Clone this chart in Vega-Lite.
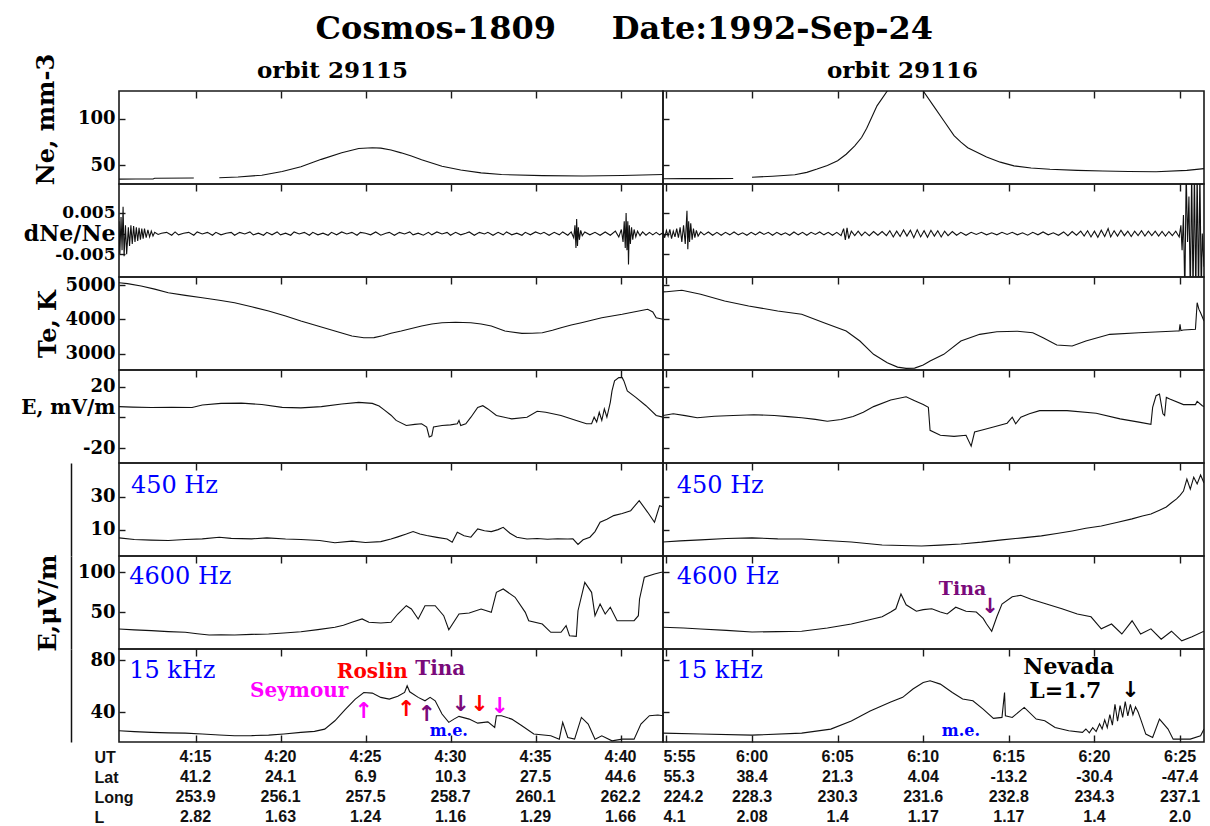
{
"$schema":"https://vega.github.io/schema/vega-lite/v6.json",
"background":"white",
"padding":{"left":19,"top":12,"right":5,"bottom":0},
"title":{"text":"Cosmos-1809\u00a0\u00a0\u00a0\u00a0\u00a0Date:1992-Sep-24","font":"DejaVu Serif","fontSize":32,"fontWeight":"bold","color":"#000","anchor":"middle","dx":12,"offset":7},
"config":{
 "view":{"stroke":"#1a1a1a","strokeWidth":1.6},
 "font":"DejaVu Serif",
 "axis":{"grid":false,"domain":false,"tickColor":"#1a1a1a","tickWidth":1.4,"labelFont":"DejaVu Serif","labelFontWeight":"bold","labelFontSize":18,"labelColor":"#000","titleFont":"DejaVu Serif","titleFontWeight":"bold","titleFontSize":24,"titleColor":"#000","labelOverlap":false,"labelFlush":false},
 "line":{"color":"#111","strokeWidth":1.1},
 "text":{"color":"#000"}
},
"datasets":{
 "ne_L":[{"t":250.5,"v":35.2,"seg":1},{"t":251.5,"v":35.3,"seg":1},{"t":252.5,"v":35.4,"seg":1},{"t":252.6,"v":36.2,"seg":1},{"t":254.9,"v":36.5,"seg":1},{"t":256.4,"v":36.8,"seg":2},{"t":257.5,"v":37.6,"seg":2},{"t":258.9,"v":39.4,"seg":2},{"t":260.1,"v":43.5,"seg":2},{"t":261.2,"v":48.6,"seg":2},{"t":262.4,"v":56.5,"seg":2},{"t":263.6,"v":63.7,"seg":2},{"t":264.6,"v":68.2,"seg":2},{"t":265.4,"v":69,"seg":2},{"t":265.9,"v":68.6,"seg":2},{"t":266.5,"v":66.5,"seg":2},{"t":267.1,"v":63.5,"seg":2},{"t":267.7,"v":60,"seg":2},{"t":268.3,"v":56,"seg":2},{"t":268.9,"v":52.5,"seg":2},{"t":269.5,"v":49,"seg":2},{"t":270.6,"v":45,"seg":2},{"t":271.8,"v":42,"seg":2},{"t":273,"v":40.2,"seg":2},{"t":275.4,"v":39,"seg":2},{"t":277.8,"v":38.6,"seg":2},{"t":280.1,"v":39.2,"seg":2},{"t":282.5,"v":40.2,"seg":2}],
 "ne_R":[{"t":354.8,"v":35.6,"seg":1},{"t":356,"v":35.8,"seg":1},{"t":357.5,"v":35.8,"seg":1},{"t":358.9,"v":35.9,"seg":1},{"t":360,"v":37.3,"seg":2},{"t":361.2,"v":38.4,"seg":2},{"t":362.5,"v":40,"seg":2},{"t":363.2,"v":42.5,"seg":2},{"t":363.8,"v":46.1,"seg":2},{"t":364.4,"v":50,"seg":2},{"t":365,"v":55,"seg":2},{"t":365.5,"v":62,"seg":2},{"t":366,"v":71,"seg":2},{"t":366.4,"v":80,"seg":2},{"t":366.7,"v":90,"seg":2},{"t":367,"v":102,"seg":2},{"t":367.3,"v":114,"seg":2},{"t":367.9,"v":130,"seg":2},{"t":368.4,"v":140,"seg":2},{"t":369,"v":146,"seg":2},{"t":369.6,"v":140,"seg":2},{"t":370,"v":130,"seg":2},{"t":370.6,"v":114,"seg":2},{"t":371.2,"v":98,"seg":2},{"t":371.8,"v":82,"seg":2},{"t":372.2,"v":75,"seg":2},{"t":372.6,"v":69,"seg":2},{"t":373.7,"v":59,"seg":2},{"t":374.5,"v":53.5,"seg":2},{"t":375.3,"v":49.5,"seg":2},{"t":376.3,"v":47.2,"seg":2},{"t":377.4,"v":45.8,"seg":2},{"t":379,"v":44.6,"seg":2},{"t":380.5,"v":44,"seg":2},{"t":382,"v":43.4,"seg":2},{"t":383.6,"v":43.2,"seg":2},{"t":385.4,"v":44.7,"seg":2},{"t":386.4,"v":46.5,"seg":2}],
 "dne_L":[{"t":250.5,"v":0.003},{"t":250.55,"v":-0.005},{"t":250.62,"v":0.004},{"t":250.68,"v":-0.004},{"t":250.74,"v":0.0065},{"t":250.8,"v":-0.0055},{"t":250.88,"v":0.002},{"t":250.95,"v":-0.005},{"t":251.05,"v":0.0015},{"t":251.12,"v":-0.003},{"t":251.2,"v":0.002},{"t":251.28,"v":-0.0025},{"t":251.36,"v":0.0018},{"t":251.44,"v":-0.002},{"t":251.52,"v":0.0015},{"t":251.6,"v":-0.0018},{"t":251.68,"v":0.0014},{"t":251.76,"v":-0.0015},{"t":251.84,"v":0.0012},{"t":251.92,"v":-0.0012},{"t":252.0,"v":0.0012},{"t":252.1,"v":-0.001},{"t":252.2,"v":0.0009},{"t":252.3,"v":-0.0008},{"t":252.4,"v":0.0006},{"t":252.5,"v":-0.0006},{"t":252.6,"v":0.0003},{"t":252.8,"v":-0.0002},{"t":253.0,"v":0.0001},{"t":253.3,"v":0.0003},{"t":253.6,"v":-0.0004},{"t":253.8,"v":0.0004},{"t":254.0,"v":-0.0003},{"t":254.3,"v":0.0001},{"t":254.6,"v":0.0003},{"t":254.9,"v":-0.0004},{"t":255.1,"v":0.0004},{"t":255.4,"v":-0.0001},{"t":255.7,"v":0.0003},{"t":256.0,"v":-0.0004},{"t":256.2,"v":0.0003},{"t":256.5,"v":-0.0003},{"t":256.8,"v":0.0001},{"t":257.1,"v":0.0003},{"t":257.3,"v":-0.0004},{"t":257.6,"v":0.0003},{"t":257.9,"v":-0.0001},{"t":258.2,"v":0.0004},{"t":258.4,"v":-0.0003},{"t":258.7,"v":0.0001},{"t":259.0,"v":-0.0004},{"t":259.2,"v":0.0003},{"t":259.5,"v":-0.0003},{"t":259.8,"v":0.0004},{"t":260.0,"v":-0.0003},{"t":260.3,"v":0.0001},{"t":260.6,"v":-0.0004},{"t":260.8,"v":0.0004},{"t":261.1,"v":-0.0001},{"t":261.4,"v":0.0003},{"t":261.7,"v":-0.0004},{"t":261.9,"v":0.0003},{"t":262.2,"v":-0.0003},{"t":262.5,"v":0.0001},{"t":262.8,"v":-0.0004},{"t":263.0,"v":0.0003},{"t":263.3,"v":-0.0003},{"t":263.6,"v":0.0004},{"t":263.9,"v":-0.0001},{"t":264.2,"v":0.0003},{"t":264.5,"v":-0.0004},{"t":264.7,"v":0.0003},{"t":265.0,"v":0.0001},{"t":265.3,"v":-0.0003},{"t":265.6,"v":0.0004},{"t":265.9,"v":-0.0004},{"t":266.2,"v":0.0001},{"t":266.4,"v":0.0003},{"t":266.7,"v":-0.0004},{"t":267.0,"v":0.0003},{"t":267.3,"v":-0.0001},{"t":267.6,"v":0.0004},{"t":267.8,"v":-0.0003},{"t":268.1,"v":0.0001},{"t":268.4,"v":-0.0004},{"t":268.7,"v":0.0003},{"t":268.9,"v":-0.0003},{"t":269.2,"v":0.0004},{"t":269.5,"v":-0.0001},{"t":269.8,"v":0.0003},{"t":270.0,"v":-0.0004},{"t":270.3,"v":0.0003},{"t":270.6,"v":-0.0003},{"t":270.9,"v":0.0001},{"t":271.1,"v":0.0004},{"t":271.4,"v":-0.0004},{"t":271.7,"v":0.0003},{"t":272.0,"v":-0.0001},{"t":272.2,"v":0.0003},{"t":272.5,"v":-0.0004},{"t":272.8,"v":0.0003},{"t":273.1,"v":-0.0003},{"t":273.3,"v":0.0004},{"t":273.6,"v":-0.0003},{"t":273.9,"v":0.0001},{"t":274.2,"v":-0.0004},{"t":274.4,"v":0.0003},{"t":274.7,"v":-0.0003},{"t":275.0,"v":0.0004},{"t":275.3,"v":-0.0001},{"t":275.5,"v":0.0003},{"t":275.8,"v":-0.0004},{"t":276.1,"v":0.0003},{"t":276.4,"v":-0.0003},{"t":276.6,"v":0.0004},{"t":276.9,"v":-0.0004},{"t":277.1,"v":0.0004},{"t":277.25,"v":-0.001},{"t":277.32,"v":0.002},{"t":277.38,"v":-0.0035},{"t":277.42,"v":0.0035},{"t":277.47,"v":-0.003},{"t":277.52,"v":0.0015},{"t":277.58,"v":-0.0015},{"t":277.66,"v":0.0008},{"t":277.75,"v":-0.0005},{"t":277.9,"v":0.0004},{"t":278.2,"v":-0.0003},{"t":278.5,"v":0.0003},{"t":278.8,"v":-0.0004},{"t":279.1,"v":0.0004},{"t":279.4,"v":-0.0004},{"t":279.7,"v":0.0006},{"t":279.9,"v":-0.0008},{"t":280.05,"v":0.001},{"t":280.15,"v":-0.002},{"t":280.22,"v":0.003},{"t":280.28,"v":-0.0035},{"t":280.33,"v":0.005},{"t":280.38,"v":-0.004},{"t":280.43,"v":0.003},{"t":280.47,"v":-0.0075},{"t":280.52,"v":0.002},{"t":280.58,"v":-0.0025},{"t":280.65,"v":0.0015},{"t":280.72,"v":-0.0015},{"t":280.8,"v":0.001},{"t":280.9,"v":-0.0008},{"t":281.0,"v":0.0006},{"t":281.15,"v":-0.0005},{"t":281.3,"v":0.0004},{"t":281.5,"v":-0.0004},{"t":281.7,"v":0.0003},{"t":281.9,"v":-0.0003},{"t":282.1,"v":0.0003},{"t":282.3,"v":-0.0003},{"t":282.5,"v":0.0002}],
 "dne_R":[{"t":354.8,"v":0.0005},{"t":354.9,"v":-0.001},{"t":355.0,"v":0.0008},{"t":355.1,"v":-0.0006},{"t":355.2,"v":0.001},{"t":355.3,"v":-0.0012},{"t":355.4,"v":0.0006},{"t":355.5,"v":-0.0008},{"t":355.6,"v":0.0012},{"t":355.7,"v":-0.001},{"t":355.8,"v":0.0015},{"t":355.9,"v":-0.002},{"t":356.0,"v":0.002},{"t":356.1,"v":-0.0025},{"t":356.2,"v":0.0055},{"t":356.25,"v":-0.0038},{"t":356.3,"v":0.003},{"t":356.35,"v":-0.002},{"t":356.42,"v":0.0025},{"t":356.5,"v":-0.0015},{"t":356.58,"v":0.0012},{"t":356.66,"v":-0.001},{"t":356.75,"v":0.0008},{"t":356.85,"v":-0.0006},{"t":357.0,"v":0.0004},{"t":357.2,"v":-0.0003},{"t":357.45,"v":0.0004},{"t":357.7,"v":-0.0004},{"t":357.95,"v":0.0003},{"t":358.2,"v":-0.0004},{"t":358.45,"v":0.0003},{"t":358.7,"v":-0.0003},{"t":358.95,"v":0.0004},{"t":359.2,"v":-0.0003},{"t":359.45,"v":0.0002},{"t":359.7,"v":-0.0004},{"t":359.95,"v":0.0003},{"t":360.2,"v":-0.0003},{"t":360.45,"v":0.0004},{"t":360.7,"v":-0.0002},{"t":360.95,"v":0.0003},{"t":361.2,"v":-0.0004},{"t":361.45,"v":0.0003},{"t":361.7,"v":-0.0003},{"t":361.95,"v":0.0002},{"t":362.2,"v":-0.0004},{"t":362.45,"v":0.0004},{"t":362.7,"v":-0.0003},{"t":362.95,"v":0.0003},{"t":363.2,"v":-0.0004},{"t":363.45,"v":0.0003},{"t":363.7,"v":-0.0002},{"t":363.95,"v":0.0004},{"t":364.2,"v":-0.0003},{"t":364.45,"v":0.0003},{"t":364.7,"v":-0.0004},{"t":364.95,"v":0.0003},{"t":365.2,"v":-0.0005},{"t":365.35,"v":0.0012},{"t":365.45,"v":-0.0015},{"t":365.55,"v":0.0014},{"t":365.65,"v":-0.0012},{"t":365.8,"v":0.0006},{"t":366.0,"v":-0.0005},{"t":366.2,"v":0.0006},{"t":366.4,"v":-0.0005},{"t":366.6,"v":0.0004},{"t":366.85,"v":-0.0005},{"t":367.1,"v":0.0005},{"t":367.35,"v":-0.0004},{"t":367.6,"v":0.0005},{"t":367.85,"v":-0.0005},{"t":368.05,"v":0.0007},{"t":368.25,"v":-0.0008},{"t":368.45,"v":0.0006},{"t":368.65,"v":-0.0007},{"t":368.85,"v":0.0009},{"t":369.05,"v":-0.0006},{"t":369.25,"v":0.0008},{"t":369.45,"v":-0.001},{"t":369.65,"v":0.0009},{"t":369.85,"v":-0.0008},{"t":370.05,"v":0.0007},{"t":370.25,"v":-0.0009},{"t":370.45,"v":0.0008},{"t":370.65,"v":-0.0006},{"t":370.85,"v":0.0007},{"t":371.05,"v":-0.0008},{"t":371.25,"v":0.0006},{"t":371.45,"v":-0.0005},{"t":371.7,"v":0.0005},{"t":371.95,"v":-0.0004},{"t":372.2,"v":0.0003},{"t":372.5,"v":-0.0004},{"t":372.8,"v":0.0003},{"t":373.1,"v":-0.0002},{"t":373.4,"v":0.0003},{"t":373.7,"v":-0.0003},{"t":374.0,"v":0.0002},{"t":374.3,"v":-0.0003},{"t":374.6,"v":0.0003},{"t":374.9,"v":-0.0002},{"t":375.2,"v":0.0003},{"t":375.5,"v":-0.0003},{"t":375.8,"v":0.0002},{"t":376.1,"v":-0.0004},{"t":376.4,"v":0.0003},{"t":376.7,"v":-0.0003},{"t":377.0,"v":0.0004},{"t":377.3,"v":-0.0003},{"t":377.6,"v":0.0002},{"t":377.9,"v":-0.0004},{"t":378.2,"v":0.0004},{"t":378.45,"v":-0.0005},{"t":378.7,"v":0.0005},{"t":378.95,"v":-0.0004},{"t":379.2,"v":0.0006},{"t":379.4,"v":-0.0006},{"t":379.6,"v":0.0007},{"t":379.8,"v":-0.0008},{"t":380.0,"v":0.0006},{"t":380.2,"v":-0.0009},{"t":380.4,"v":0.0008},{"t":380.6,"v":-0.0007},{"t":380.8,"v":0.0012},{"t":380.95,"v":-0.0008},{"t":381.15,"v":0.0007},{"t":381.35,"v":-0.0006},{"t":381.55,"v":0.0008},{"t":381.75,"v":-0.0005},{"t":381.95,"v":0.0006},{"t":382.15,"v":-0.0007},{"t":382.35,"v":0.0006},{"t":382.55,"v":-0.0005},{"t":382.75,"v":0.0007},{"t":382.95,"v":-0.0006},{"t":383.15,"v":0.0006},{"t":383.35,"v":-0.0005},{"t":383.55,"v":0.0006},{"t":383.75,"v":-0.0006},{"t":383.95,"v":0.0005},{"t":384.15,"v":-0.0006},{"t":384.35,"v":0.0005},{"t":384.55,"v":-0.0005},{"t":384.75,"v":0.0006},{"t":384.95,"v":-0.0008},{"t":385.05,"v":0.002},{"t":385.12,"v":-0.004},{"t":385.2,"v":0.0045},{"t":385.28,"v":-0.015},{"t":385.36,"v":0.015},{"t":385.44,"v":-0.002},{"t":385.52,"v":0.009},{"t":385.6,"v":-0.015},{"t":385.68,"v":0.015},{"t":385.76,"v":-0.015},{"t":385.84,"v":0.015},{"t":385.92,"v":-0.015},{"t":386.0,"v":0.015},{"t":386.08,"v":-0.015},{"t":386.16,"v":0.015},{"t":386.24,"v":-0.015},{"t":386.3,"v":0.0},{"t":386.4,"v":-0.008}],
 "te_L":[{"t":250.5,"v":5067},{"t":251.0,"v":5040},{"t":251.8,"v":4971},{"t":252.6,"v":4880},{"t":253.4,"v":4777},{"t":254.4,"v":4700},{"t":255.4,"v":4632},{"t":256.4,"v":4560},{"t":257.3,"v":4487},{"t":258.3,"v":4370},{"t":259.3,"v":4246},{"t":260.3,"v":4100},{"t":261.2,"v":3956},{"t":262.2,"v":3810},{"t":263.2,"v":3666},{"t":264.2,"v":3521},{"t":264.9,"v":3472},{"t":265.5,"v":3475},{"t":266.0,"v":3530},{"t":266.5,"v":3600},{"t":267.1,"v":3666},{"t":267.7,"v":3740},{"t":268.3,"v":3811},{"t":268.9,"v":3870},{"t":269.5,"v":3907},{"t":270.3,"v":3920},{"t":271.2,"v":3907},{"t":271.8,"v":3870},{"t":272.4,"v":3811},{"t":273.2,"v":3666},{"t":274.2,"v":3599},{"t":274.8,"v":3600},{"t":275.4,"v":3617},{"t":276.0,"v":3690},{"t":276.5,"v":3762},{"t":277.1,"v":3840},{"t":277.7,"v":3907},{"t":278.3,"v":3980},{"t":278.9,"v":4052},{"t":279.5,"v":4100},{"t":280.1,"v":4150},{"t":280.7,"v":4210},{"t":281.3,"v":4266},{"t":281.6,"v":4295},{"t":281.9,"v":4220},{"t":282.1,"v":4050},{"t":282.5,"v":4005}],
 "te_R":[{"t":354.8,"v":4800},{"t":355.0,"v":4806},{"t":355.9,"v":4846},{"t":357.0,"v":4730},{"t":358.4,"v":4536},{"t":359.8,"v":4391},{"t":361.5,"v":4246},{"t":362.9,"v":4150},{"t":364.2,"v":3907},{"t":365.5,"v":3666},{"t":366.3,"v":3376},{"t":367.1,"v":2990},{"t":367.9,"v":2747},{"t":368.5,"v":2620},{"t":369.0,"v":2584},{"t":369.5,"v":2590},{"t":370.0,"v":2680},{"t":370.4,"v":2796},{"t":371.2,"v":2990},{"t":372.2,"v":3376},{"t":373.3,"v":3570},{"t":374.3,"v":3646},{"t":375.5,"v":3660},{"t":376.4,"v":3617},{"t":377.0,"v":3472},{"t":377.8,"v":3260},{"t":378.7,"v":3231},{"t":379.5,"v":3376},{"t":380.9,"v":3570},{"t":382.6,"v":3617},{"t":384.8,"v":3666},{"t":384.95,"v":3666},{"t":385.0,"v":3860},{"t":385.05,"v":3680},{"t":385.2,"v":3695},{"t":385.9,"v":3715},{"t":386.0,"v":4487},{"t":386.1,"v":4300},{"t":386.2,"v":4197},{"t":386.4,"v":3956}],
 "e_L":[{"t":250.5,"v":7.1},{"t":251.3,"v":6.8},{"t":252.4,"v":6.5},{"t":253.6,"v":6.6},{"t":254.8,"v":6.5},{"t":255.4,"v":8.2},{"t":256.5,"v":9.2},{"t":257.7,"v":9.4},{"t":258.9,"v":8.5},{"t":260.1,"v":6.6},{"t":261.2,"v":6.3},{"t":262.4,"v":7.1},{"t":263.6,"v":8.8},{"t":264.6,"v":9.9},{"t":265.4,"v":9.2},{"t":265.8,"v":7.5},{"t":266.1,"v":5},{"t":266.5,"v":1.5},{"t":266.8,"v":-1.9},{"t":267.4,"v":-5.2},{"t":267.9,"v":-4.5},{"t":268.3,"v":-4.1},{"t":268.6,"v":-6.2},{"t":268.75,"v":-12.7},{"t":268.9,"v":-12},{"t":269.0,"v":-6.2},{"t":269.5,"v":-5.2},{"t":270.0,"v":-4.8},{"t":270.4,"v":-4.1},{"t":270.5,"v":-1.9},{"t":270.6,"v":-5.2},{"t":270.9,"v":-4.1},{"t":271.2,"v":0.2},{"t":271.6,"v":6.6},{"t":271.9,"v":7.7},{"t":272.2,"v":5.6},{"t":272.7,"v":1.3},{"t":273.6,"v":-0.9},{"t":274.5,"v":0.2},{"t":275.1,"v":4.1},{"t":275.6,"v":3.4},{"t":276.5,"v":1.3},{"t":277.4,"v":-1.9},{"t":278.0,"v":-4.1},{"t":278.3,"v":-4.1},{"t":278.45,"v":0.2},{"t":278.6,"v":-3},{"t":278.75,"v":3.4},{"t":278.9,"v":-1.9},{"t":279.05,"v":5.6},{"t":279.2,"v":0.2},{"t":279.4,"v":9.9},{"t":279.5,"v":17.4},{"t":279.65,"v":23.9},{"t":279.9,"v":26},{"t":280.1,"v":26},{"t":280.2,"v":23.9},{"t":280.4,"v":17.4},{"t":280.9,"v":13.1},{"t":281.5,"v":7.7},{"t":282.1,"v":1.3},{"t":282.5,"v":0.2}],
 "e_R":[{"t":354.8,"v":1.3},{"t":355.4,"v":2.4},{"t":356.1,"v":1.2},{"t":356.8,"v":-0.2},{"t":357.8,"v":0.8},{"t":358.9,"v":1.3},{"t":360.1,"v":1.8},{"t":361.3,"v":1.3},{"t":362.1,"v":0.6},{"t":362.9,"v":-0.2},{"t":363.7,"v":-1.2},{"t":364.4,"v":-2.4},{"t":365.2,"v":-1.3},{"t":365.9,"v":0.6},{"t":366.5,"v":3.5},{"t":367.1,"v":7.1},{"t":368.1,"v":11.4},{"t":369.0,"v":13.5},{"t":369.5,"v":11},{"t":370.0,"v":8.5},{"t":370.3,"v":6.6},{"t":370.4,"v":-8.4},{"t":371.0,"v":-11.6},{"t":371.8,"v":-12.3},{"t":372.5,"v":-11.6},{"t":372.8,"v":-18.7},{"t":373.0,"v":-9.5},{"t":373.5,"v":-8},{"t":374.1,"v":-6.2},{"t":374.9,"v":-3.7},{"t":375.2,"v":0.2},{"t":375.4,"v":-4.1},{"t":375.7,"v":0.2},{"t":376.2,"v":2.5},{"t":376.8,"v":4.5},{"t":378.4,"v":4.5},{"t":380.1,"v":2.8},{"t":381.5,"v":-0.9},{"t":382.6,"v":-3},{"t":383.3,"v":-4.5},{"t":383.4,"v":6.6},{"t":383.6,"v":14.2},{"t":383.8,"v":15.3},{"t":384.0,"v":2.4},{"t":384.1,"v":1.3},{"t":384.2,"v":13.1},{"t":384.4,"v":12.1},{"t":385.2,"v":8.4},{"t":385.9,"v":8.4},{"t":386.0,"v":10.5},{"t":386.3,"v":7.7},{"t":386.4,"v":7.1}],
 "f450_L":[{"t":250.5,"v":5.2},{"t":251.4,"v":4.2},{"t":252.4,"v":3.8},{"t":253.4,"v":3.6},{"t":254.4,"v":4.2},{"t":255.4,"v":4.6},{"t":256.4,"v":5.6},{"t":257.1,"v":4.9},{"t":258.3,"v":4.6},{"t":259.2,"v":5.2},{"t":260.3,"v":4.5},{"t":261.2,"v":4.2},{"t":262.3,"v":3.6},{"t":263.2,"v":2.2},{"t":264.2,"v":3.2},{"t":265.0,"v":2.4},{"t":265.9,"v":2.9},{"t":266.5,"v":4.5},{"t":266.9,"v":5.8},{"t":267.4,"v":7.5},{"t":267.8,"v":9},{"t":268.2,"v":7.5},{"t":268.6,"v":6.6},{"t":269.2,"v":5.5},{"t":269.8,"v":4.5},{"t":270.1,"v":2.5},{"t":270.4,"v":8.6},{"t":270.8,"v":6.5},{"t":271.2,"v":5.6},{"t":271.6,"v":10.6},{"t":272.0,"v":9.5},{"t":272.4,"v":9},{"t":272.8,"v":10.2},{"t":273.1,"v":11.6},{"t":273.5,"v":8},{"t":273.9,"v":5.6},{"t":274.5,"v":4.5},{"t":275.1,"v":4.8},{"t":275.7,"v":4.4},{"t":276.3,"v":4.7},{"t":276.9,"v":4.5},{"t":277.2,"v":4.6},{"t":277.5,"v":1.2},{"t":277.8,"v":4},{"t":278.2,"v":5.6},{"t":278.5,"v":9},{"t":278.8,"v":14.7},{"t":279.2,"v":16.5},{"t":279.6,"v":18.7},{"t":280.1,"v":20},{"t":280.6,"v":21.7},{"t":281.1,"v":27.8},{"t":281.6,"v":20.7},{"t":282.0,"v":14.7},{"t":282.3,"v":24.7},{"t":282.5,"v":24}],
 "f450_R":[{"t":354.8,"v":2.7},{"t":355.8,"v":3.4},{"t":357.0,"v":4},{"t":358.5,"v":4.8},{"t":360.0,"v":5.2},{"t":361.5,"v":4.6},{"t":362.9,"v":4.5},{"t":364.3,"v":3.6},{"t":365.8,"v":2.7},{"t":367.6,"v":0.9},{"t":369.9,"v":0.3},{"t":371.0,"v":0.8},{"t":372.2,"v":1.5},{"t":373.4,"v":2.6},{"t":374.6,"v":4},{"t":375.8,"v":5.2},{"t":376.9,"v":6.4},{"t":377.8,"v":7.8},{"t":378.7,"v":9.4},{"t":379.5,"v":11},{"t":380.4,"v":12.4},{"t":381.3,"v":14.5},{"t":382.2,"v":16.7},{"t":382.8,"v":18.5},{"t":383.3,"v":19.7},{"t":383.8,"v":22},{"t":384.2,"v":23.9},{"t":384.5,"v":26.5},{"t":384.8,"v":28.8},{"t":385.0,"v":31},{"t":385.2,"v":33.6},{"t":385.4,"v":40.9},{"t":385.6,"v":34.8},{"t":385.8,"v":42},{"t":386.0,"v":37.9},{"t":386.2,"v":43.3},{"t":386.4,"v":38.5}],
 "f4600_L":[{"t":250.5,"v":28.8},{"t":251.4,"v":27.6},{"t":252.4,"v":26.7},{"t":253.4,"v":25.5},{"t":254.4,"v":24.6},{"t":255.1,"v":22.8},{"t":255.8,"v":21.3},{"t":256.5,"v":21.5},{"t":257.3,"v":21.3},{"t":258.3,"v":22},{"t":259.3,"v":22.5},{"t":260.2,"v":23.8},{"t":261.2,"v":25.4},{"t":262.2,"v":28},{"t":263.2,"v":30.9},{"t":263.7,"v":33.5},{"t":264.2,"v":37.1},{"t":264.8,"v":41.3},{"t":265.2,"v":37.1},{"t":265.9,"v":36.3},{"t":266.5,"v":37.1},{"t":266.9,"v":47.5},{"t":267.4,"v":57.9},{"t":267.7,"v":53.8},{"t":268.1,"v":41.3},{"t":268.5,"v":57.9},{"t":269.1,"v":57.9},{"t":269.6,"v":45.4},{"t":269.9,"v":27.9},{"t":270.5,"v":47.5},{"t":271.1,"v":48.8},{"t":271.8,"v":53.8},{"t":272.4,"v":49.6},{"t":272.7,"v":74.6},{"t":273.1,"v":78.8},{"t":273.8,"v":68.4},{"t":274.4,"v":49.6},{"t":274.6,"v":39.1},{"t":275.4,"v":35},{"t":275.9,"v":24.6},{"t":276.5,"v":24.6},{"t":276.8,"v":32.9},{"t":277.0,"v":20.4},{"t":277.4,"v":19.6},{"t":277.5,"v":51.6},{"t":277.9,"v":87.1},{"t":278.3,"v":74.6},{"t":278.5,"v":45.4},{"t":278.8,"v":60},{"t":279.1,"v":47.5},{"t":279.4,"v":55.9},{"t":279.8,"v":39.1},{"t":280.8,"v":39.1},{"t":281.05,"v":45.4},{"t":281.12,"v":66.3},{"t":281.4,"v":93.4},{"t":282.0,"v":97.5},{"t":282.4,"v":99.6},{"t":282.5,"v":99.6}],
 "f4600_R":[{"t":354.8,"v":31},{"t":356.0,"v":30},{"t":357.0,"v":28.8},{"t":358.5,"v":27},{"t":360.0,"v":25},{"t":361.5,"v":25.5},{"t":362.9,"v":26},{"t":364.4,"v":30},{"t":365.8,"v":35},{"t":366.8,"v":40},{"t":367.6,"v":44},{"t":368.1,"v":50},{"t":368.4,"v":54},{"t":368.7,"v":72.5},{"t":369.0,"v":59},{"t":369.6,"v":51},{"t":370.0,"v":53},{"t":370.5,"v":54},{"t":371.0,"v":50},{"t":371.4,"v":47.5},{"t":371.9,"v":56},{"t":372.5,"v":51},{"t":373.1,"v":50},{"t":373.5,"v":42},{"t":373.7,"v":35},{"t":374.0,"v":26},{"t":374.3,"v":44},{"t":374.6,"v":60},{"t":375.2,"v":69},{"t":375.7,"v":71},{"t":376.3,"v":66},{"t":377.2,"v":60},{"t":378.1,"v":54},{"t":379.0,"v":47.5},{"t":379.8,"v":44},{"t":380.4,"v":29},{"t":381.0,"v":35},{"t":381.6,"v":22.5},{"t":382.2,"v":39},{"t":382.7,"v":22.5},{"t":383.3,"v":29},{"t":383.9,"v":16},{"t":384.5,"v":26},{"t":385.1,"v":14},{"t":385.7,"v":19},{"t":386.4,"v":26}],
 "f15k_L":[{"t":250.5,"v":25.6},{"t":251.4,"v":25},{"t":252.4,"v":24.4},{"t":253.4,"v":24},{"t":254.4,"v":23.8},{"t":255.4,"v":23.1},{"t":256.4,"v":22.4},{"t":257.3,"v":21.8},{"t":258.3,"v":21.9},{"t":259.3,"v":22.3},{"t":260.2,"v":23.2},{"t":261.2,"v":24.4},{"t":262.0,"v":25.2},{"t":262.6,"v":26.9},{"t":263.2,"v":33.3},{"t":263.8,"v":41.8},{"t":264.4,"v":50},{"t":264.9,"v":55.1},{"t":265.4,"v":54.6},{"t":265.9,"v":51.3},{"t":266.4,"v":50},{"t":266.9,"v":52.1},{"t":267.3,"v":55.1},{"t":267.45,"v":60.2},{"t":267.6,"v":55.6},{"t":268.1,"v":51.3},{"t":268.5,"v":48.7},{"t":268.8,"v":51.3},{"t":269.1,"v":48.7},{"t":269.5,"v":38.5},{"t":269.9,"v":32.1},{"t":270.2,"v":34.6},{"t":270.5,"v":36.7},{"t":271.1,"v":34.6},{"t":271.6,"v":31.5},{"t":272.2,"v":32.5},{"t":272.6,"v":28.2},{"t":272.7,"v":37.2},{"t":273.0,"v":37.2},{"t":273.6,"v":34.6},{"t":274.2,"v":29.5},{"t":274.9,"v":23.1},{"t":275.9,"v":21.8},{"t":276.4,"v":19.2},{"t":276.6,"v":32.1},{"t":276.9,"v":20.5},{"t":277.3,"v":19.2},{"t":277.7,"v":35.9},{"t":278.1,"v":30.8},{"t":278.5,"v":19.2},{"t":278.9,"v":21.8},{"t":279.5,"v":17.9},{"t":280.1,"v":19.2},{"t":280.8,"v":19.2},{"t":281.2,"v":30.8},{"t":281.7,"v":37.2},{"t":282.2,"v":37.7},{"t":282.5,"v":37.2}],
 "f15k_R":[{"t":354.8,"v":23.8},{"t":357.0,"v":23.1},{"t":360.0,"v":22.3},{"t":362.9,"v":23.8},{"t":364.6,"v":26.9},{"t":365.8,"v":33.1},{"t":366.9,"v":40.8},{"t":368.1,"v":47.7},{"t":368.8,"v":51.3},{"t":369.4,"v":57.7},{"t":370.0,"v":62.8},{"t":370.4,"v":64.1},{"t":371.0,"v":61.5},{"t":371.7,"v":55.1},{"t":372.3,"v":50},{"t":372.9,"v":48.7},{"t":373.5,"v":42.3},{"t":374.1,"v":35.2},{"t":374.6,"v":35.9},{"t":374.75,"v":55.1},{"t":374.8,"v":37.2},{"t":375.2,"v":35.9},{"t":375.9,"v":43.6},{"t":376.6,"v":34.6},{"t":377.1,"v":33.3},{"t":377.7,"v":28.2},{"t":378.5,"v":25.6},{"t":379.3,"v":24.4},{"t":379.5,"v":27},{"t":379.7,"v":24},{"t":379.9,"v":28},{"t":380.1,"v":25},{"t":380.3,"v":31},{"t":380.45,"v":27},{"t":380.6,"v":34},{"t":380.75,"v":28},{"t":380.9,"v":38},{"t":381.05,"v":30},{"t":381.2,"v":46},{"t":381.35,"v":33},{"t":381.5,"v":45},{"t":381.65,"v":36},{"t":381.8,"v":48},{"t":381.95,"v":37},{"t":382.1,"v":46},{"t":382.25,"v":38},{"t":382.4,"v":44},{"t":382.55,"v":40},{"t":382.7,"v":34.6},{"t":383.0,"v":23.1},{"t":383.4,"v":20.5},{"t":383.8,"v":34.6},{"t":384.3,"v":26.9},{"t":384.6,"v":19.2},{"t":385.6,"v":19.2},{"t":386.2,"v":21.8},{"t":386.4,"v":26.9}],
 "notes":[
  {"panel":"f450_L","kind":"band","t":251.2,"v":36.7,"text":"450 Hz","who":"band"},
  {"panel":"f450_R","kind":"band","t":355.6,"v":36.7,"text":"450 Hz","who":"band"},
  {"panel":"f4600_L","kind":"band","t":251.1,"v":93.7,"text":"4600 Hz","who":"band"},
  {"panel":"f4600_R","kind":"band","t":355.6,"v":93.7,"text":"4600 Hz","who":"band"},
  {"panel":"f15k_L","kind":"band","t":251.1,"v":71.5,"text":"15 kHz","who":"band"},
  {"panel":"f15k_R","kind":"band","t":355.6,"v":71.5,"text":"15 kHz","who":"band"},
  {"panel":"f15k_L","kind":"name","t":261.1,"v":56.2,"text":"Seymour","who":"Seymour"},
  {"panel":"f15k_L","kind":"name","t":265.4,"v":70.8,"text":"Roslin","who":"Roslin"},
  {"panel":"f15k_L","kind":"name","t":269.4,"v":73.1,"text":"Tina","who":"Tina"},
  {"panel":"f15k_L","kind":"arrow","t":264.9,"v":40.8,"text":"↑","who":"Seymour"},
  {"panel":"f15k_L","kind":"arrow","t":267.4,"v":42.3,"text":"↑","who":"Roslin"},
  {"panel":"f15k_L","kind":"arrow","t":268.6,"v":38.5,"text":"↑","who":"Tina"},
  {"panel":"f15k_L","kind":"arrow","t":270.6,"v":46.2,"text":"↓","who":"Tina"},
  {"panel":"f15k_L","kind":"arrow","t":271.7,"v":46.2,"text":"↓","who":"Roslin"},
  {"panel":"f15k_L","kind":"arrow","t":272.9,"v":44.6,"text":"↓","who":"Seymour"},
  {"panel":"f15k_L","kind":"me","t":269.9,"v":25.3,"text":"m.e.","who":"m.e."},
  {"panel":"f15k_R","kind":"me","t":372.2,"v":25.3,"text":"m.e.","who":"m.e."},
  {"panel":"f15k_R","kind":"name","t":378.5,"v":74.6,"text":"Nevada","who":"Nevada"},
  {"panel":"f15k_R","kind":"name","t":378.3,"v":56.2,"text":"L=1.7","who":"Nevada"},
  {"panel":"f15k_R","kind":"arrow","t":382.1,"v":57,"text":"↓","who":"Nevada"},
  {"panel":"f4600_R","kind":"name","t":372.3,"v":78.7,"text":"Tina","who":"Tina"},
  {"panel":"f4600_R","kind":"arrow","t":373.9,"v":56,"text":"↓","who":"Tina"}
 ],
 "metick":[{"panel":"f15k_L","t":269.9},{"panel":"f15k_R","t":372.4}],
 "table_L":[{"t":255,"UT":"4:15","Lat":"41.2","Long":"253.9","L":"2.82"},{"t":260,"UT":"4:20","Lat":"24.1","Long":"256.1","L":"1.63"},{"t":265,"UT":"4:25","Lat":"6.9","Long":"257.5","L":"1.24"},{"t":270,"UT":"4:30","Lat":"10.3","Long":"258.7","L":"1.16"},{"t":275,"UT":"4:35","Lat":"27.5","Long":"260.1","L":"1.29"},{"t":280,"UT":"4:40","Lat":"44.6","Long":"262.2","L":"1.66"}],
 "table_R":[{"t":355,"UT":"5:55","Lat":"55.3","Long":"224.2","L":"4.1"},{"t":360,"UT":"6:00","Lat":"38.4","Long":"228.3","L":"2.08"},{"t":365,"UT":"6:05","Lat":"21.3","Long":"230.3","L":"1.4"},{"t":370,"UT":"6:10","Lat":"4.04","Long":"231.6","L":"1.17"},{"t":375,"UT":"6:15","Lat":"-13.2","Long":"232.8","L":"1.17"},{"t":380,"UT":"6:20","Lat":"-30.4","Long":"234.3","L":"1.4"},{"t":385,"UT":"6:25","Lat":"-47.4","Long":"237.1","L":"2.0"}]
},
"columns":2,
"spacing":0,
"bounds":"flush",
"concat":[
 {"width":544,"height":93,
  "data":{"name":"ne_L"},"mark":{"type":"line","clip":true},
  "encoding":{
   "x":{"field":"t","type":"quantitative","scale":{"domain":[250.5,282.5],"nice":false,"zero":false},"axis":{"orient":"top","values":[255,260,265,270,275,280],"labels":false,"tickSize":-7,"title":"orbit 29115","titleFontSize":23,"titleX":213,"titleAlign":"center","titlePadding":8}},
   "y":{"field":"v","type":"quantitative","scale":{"domain":[30,130],"nice":false,"zero":false},"axis":{"values":[50,100],"tickSize":-6,"labelPadding":10,"title":"Ne, mm-3","titleX":-73,"titleY":28,"titleBaseline":"middle","titleAngle":270}},
   "detail":{"field":"seg","type":"nominal"}}},
 {"width":541,"height":93,
  "data":{"name":"ne_R"},"mark":{"type":"line","clip":true},
  "encoding":{
   "x":{"field":"t","type":"quantitative","scale":{"domain":[354.8,386.4],"nice":false,"zero":false},"axis":{"orient":"top","values":[355,360,365,370,375,380,385],"labels":false,"tickSize":-7,"title":"orbit 29116","titleFontSize":23,"titleX":239,"titleAlign":"center","titlePadding":8}},
   "y":{"field":"v","type":"quantitative","scale":{"domain":[30,130],"nice":false,"zero":false},"axis":{"values":[50,100],"tickSize":-6,"labels":false,"title":null}},
   "detail":{"field":"seg","type":"nominal"}}},
 {"width":544,"height":93,
  "data":{"name":"dne_L"},"mark":{"type":"line","clip":true},
  "encoding":{
   "x":{"field":"t","type":"quantitative","scale":{"domain":[250.5,282.5],"nice":false,"zero":false},"axis":{"orient":"top","values":[255,260,265,270,275,280],"labels":false,"tickSize":-7,"title":null}},
   "y":{"field":"v","type":"quantitative","scale":{"domain":[-0.0105,0.012],"nice":false,"zero":false},"axis":{"values":[-0.005,0,0.005],"format":".3f","tickSize":-6,"labelPadding":10,"title":null,"labelExpr":"datum.value == 0 ? 'dNe/Ne' : replace(datum.label, '\u2212', '-')","labelFontSize":{"condition":{"test":"datum.value == 0","value":22},"value":17}}}}},
 {"width":541,"height":93,
  "data":{"name":"dne_R"},"mark":{"type":"line","clip":true},
  "encoding":{
   "x":{"field":"t","type":"quantitative","scale":{"domain":[354.8,386.4],"nice":false,"zero":false},"axis":{"orient":"top","values":[355,360,365,370,375,380,385],"labels":false,"tickSize":-7,"title":null}},
   "y":{"field":"v","type":"quantitative","scale":{"domain":[-0.0105,0.012],"nice":false,"zero":false},"axis":{"values":[-0.005,0,0.005],"tickSize":-6,"labels":false,"title":null}}}},
 {"width":544,"height":93,
  "data":{"name":"te_L"},"mark":{"type":"line","clip":true},
  "encoding":{
   "x":{"field":"t","type":"quantitative","scale":{"domain":[250.5,282.5],"nice":false,"zero":false},"axis":{"orient":"top","values":[255,260,265,270,275,280],"labels":false,"tickSize":-7,"title":null}},
   "y":{"field":"v","type":"quantitative","scale":{"domain":[2536,5232],"nice":false,"zero":false},"axis":{"values":[3000,4000,5000],"format":"d","tickSize":-6,"labelPadding":10,"title":"Te, K","titleX":-71,"titleBaseline":"middle","titleAngle":270}}}},
 {"width":541,"height":93,
  "data":{"name":"te_R"},"mark":{"type":"line","clip":true},
  "encoding":{
   "x":{"field":"t","type":"quantitative","scale":{"domain":[354.8,386.4],"nice":false,"zero":false},"axis":{"orient":"top","values":[355,360,365,370,375,380,385],"labels":false,"tickSize":-7,"title":null}},
   "y":{"field":"v","type":"quantitative","scale":{"domain":[2536,5232],"nice":false,"zero":false},"axis":{"values":[3000,4000,5000],"tickSize":-6,"labels":false,"title":null}}}},
 {"width":544,"height":93,
  "data":{"name":"e_L"},"mark":{"type":"line","clip":true},
  "encoding":{
   "x":{"field":"t","type":"quantitative","scale":{"domain":[250.5,282.5],"nice":false,"zero":false},"axis":{"orient":"top","values":[255,260,265,270,275,280],"labels":false,"tickSize":-7,"title":null}},
   "y":{"field":"v","type":"quantitative","scale":{"domain":[-29.7,31],"nice":false,"zero":false},"axis":{"values":[-20,0,20],"tickSize":-6,"labelPadding":10,"title":null,"labelExpr":"datum.value == 0 ? 'E, mV/m' : replace(datum.label, '\u2212', '-')","labelFontSize":{"condition":{"test":"datum.value == 0","value":20},"value":18},"labelBaseline":{"condition":{"test":"datum.value == 0","value":"bottom"},"value":"middle"}}}}},
 {"width":541,"height":93,
  "data":{"name":"e_R"},"mark":{"type":"line","clip":true},
  "encoding":{
   "x":{"field":"t","type":"quantitative","scale":{"domain":[354.8,386.4],"nice":false,"zero":false},"axis":{"orient":"top","values":[355,360,365,370,375,380,385],"labels":false,"tickSize":-7,"title":null}},
   "y":{"field":"v","type":"quantitative","scale":{"domain":[-29.7,31],"nice":false,"zero":false},"axis":{"values":[-20,0,20],"tickSize":-6,"labels":false,"title":null}}}},
 {"width":544,"height":93,
  "resolve":{"axis":{"y":"independent"}},
  "encoding":{
   "x":{"field":"t","type":"quantitative","scale":{"domain":[250.5,282.5],"nice":false,"zero":false},"axis":{"orient":"top","values":[255,260,265,270,275,280],"labels":false,"tickSize":-7,"title":null}},
   "y":{"field":"v","type":"quantitative","scale":{"domain":[-5.8,50.6],"nice":false,"zero":false},"axis":{"values":[10,30],"tickSize":-6,"labelPadding":10,"title":null}}},
  "layer":[
   {"data":{"name":"f450_L"},"mark":{"type":"line","clip":true}},
   {"data":{"name":"notes"},"transform":[{"filter":"datum.panel == 'f450_L' && datum.kind == 'band'"}],"mark":{"type":"text","align":"left","baseline":"middle","fontSize":24,"color":"#0000ff"},"encoding":{"text":{"field":"text"},"y":{"field":"v","type":"quantitative","scale":{"domain":[-5.8,50.6],"nice":false,"zero":false},"axis":{"orient":"left","offset":48,"domain":true,"domainColor":"#111","domainWidth":1.5,"ticks":false,"labels":false,"title":null}}}}
  ]},
 {"width":541,"height":93,
  "encoding":{
   "x":{"field":"t","type":"quantitative","scale":{"domain":[354.8,386.4],"nice":false,"zero":false},"axis":{"orient":"top","values":[355,360,365,370,375,380,385],"labels":false,"tickSize":-7,"title":null}},
   "y":{"field":"v","type":"quantitative","scale":{"domain":[-5.8,50.6],"nice":false,"zero":false},"axis":{"values":[10,30],"tickSize":-6,"labels":false,"title":null}}},
  "layer":[
   {"data":{"name":"f450_R"},"mark":{"type":"line","clip":true}},
   {"data":{"name":"notes"},"transform":[{"filter":"datum.panel == 'f450_R' && datum.kind == 'band'"}],"mark":{"type":"text","align":"left","baseline":"middle","fontSize":24,"color":"#0000ff"},"encoding":{"text":{"field":"text"}}}
  ]},
 {"width":544,"height":93,
  "resolve":{"axis":{"y":"independent"}},
  "encoding":{
   "x":{"field":"t","type":"quantitative","scale":{"domain":[250.5,282.5],"nice":false,"zero":false},"axis":{"orient":"top","values":[255,260,265,270,275,280],"labels":false,"tickSize":-7,"title":null}},
   "y":{"field":"v","type":"quantitative","scale":{"domain":[3.75,120],"nice":false,"zero":false},"axis":{"values":[50,100],"tickSize":-6,"labelPadding":10,"title":"E,μV/m","titleX":-71,"titleBaseline":"middle","titleAngle":270}}},
  "layer":[
   {"data":{"name":"f4600_L"},"mark":{"type":"line","clip":true}},
   {"data":{"name":"notes"},"transform":[{"filter":"datum.panel == 'f4600_L' && datum.kind == 'band'"}],"mark":{"type":"text","align":"left","baseline":"middle","fontSize":24,"color":"#0000ff"},"encoding":{"text":{"field":"text"},"y":{"field":"v","type":"quantitative","scale":{"domain":[3.75,120],"nice":false,"zero":false},"axis":{"orient":"left","offset":48,"domain":true,"domainColor":"#111","domainWidth":1.5,"ticks":false,"labels":false,"title":null}}}}
  ]},
 {"width":541,"height":93,
  "encoding":{
   "x":{"field":"t","type":"quantitative","scale":{"domain":[354.8,386.4],"nice":false,"zero":false},"axis":{"orient":"top","values":[355,360,365,370,375,380,385],"labels":false,"tickSize":-7,"title":null}},
   "y":{"field":"v","type":"quantitative","scale":{"domain":[3.75,120],"nice":false,"zero":false},"axis":{"values":[50,100],"tickSize":-6,"labels":false,"title":null}}},
  "layer":[
   {"data":{"name":"f4600_R"},"mark":{"type":"line","clip":true}},
   {"data":{"name":"notes"},"transform":[{"filter":"datum.panel == 'f4600_R' && datum.kind == 'band'"}],"mark":{"type":"text","align":"left","baseline":"middle","fontSize":24,"color":"#0000ff"},"encoding":{"text":{"field":"text"}}},
   {"data":{"name":"notes"},"transform":[{"filter":"datum.panel == 'f4600_R' && datum.kind == 'name'"}],"mark":{"type":"text","baseline":"middle","fontSize":19,"fontWeight":"bold"},"encoding":{"text":{"field":"text"},"color":{"field":"who","type":"nominal","scale":{"domain":["Seymour","Roslin","Tina","m.e.","Nevada"],"range":["#ff00ff","#ff0000","#7a0a7a","#0000ff","#000000"]},"legend":null}}},
   {"data":{"name":"notes"},"transform":[{"filter":"datum.panel == 'f4600_R' && datum.kind == 'arrow'"}],"mark":{"type":"text","baseline":"middle","fontSize":21,"fontWeight":"bold","font":"DejaVu Sans"},"encoding":{"text":{"field":"text"},"color":{"field":"who","type":"nominal","scale":{"domain":["Seymour","Roslin","Tina","m.e.","Nevada"],"range":["#ff00ff","#ff0000","#7a0a7a","#0000ff","#000000"]},"legend":null}}}
  ]},
 {"width":544,"height":93,
  "resolve":{"axis":{"y":"independent"}},
  "encoding":{
   "x":{"field":"t","type":"quantitative","scale":{"domain":[250.5,282.5],"nice":false,"zero":false},"axis":{"orient":"top","values":[255,260,265,270,275,280],"labels":false,"tickSize":-7,"title":null}},
   "y":{"field":"v","type":"quantitative","scale":{"domain":[17,88.5],"nice":false,"zero":false},"axis":{"values":[40,80],"tickSize":-6,"labelPadding":10,"title":null}}},
  "layer":[
   {"data":{"name":"f15k_L"},"mark":{"type":"line","clip":true}},
   {"data":{"name":"notes"},"transform":[{"filter":"datum.panel == 'f15k_L' && datum.kind == 'band'"}],"mark":{"type":"text","align":"left","baseline":"middle","fontSize":24,"color":"#0000ff"},"encoding":{"text":{"field":"text"},"y":{"field":"v","type":"quantitative","scale":{"domain":[17,88.5],"nice":false,"zero":false},"axis":{"orient":"left","offset":48,"domain":true,"domainColor":"#111","domainWidth":1.5,"ticks":false,"labels":false,"title":null}}}},
   {"data":{"name":"notes"},"transform":[{"filter":"datum.panel == 'f15k_L' && datum.kind == 'name'"}],"mark":{"type":"text","baseline":"middle","fontSize":20,"fontWeight":"bold"},"encoding":{"text":{"field":"text"},"y":{"field":"v","type":"quantitative","scale":{"domain":[17,88.5],"nice":false,"zero":false},"axis":null},"color":{"field":"who","type":"nominal","scale":{"domain":["Seymour","Roslin","Tina","m.e.","Nevada"],"range":["#ff00ff","#ff0000","#7a0a7a","#0000ff","#000000"]},"legend":null}}},
   {"data":{"name":"notes"},"transform":[{"filter":"datum.panel == 'f15k_L' && datum.kind == 'arrow'"}],"mark":{"type":"text","baseline":"middle","fontSize":22,"fontWeight":"bold","font":"DejaVu Sans"},"encoding":{"text":{"field":"text"},"y":{"field":"v","type":"quantitative","scale":{"domain":[17,88.5],"nice":false,"zero":false},"axis":null},"color":{"field":"who","type":"nominal","scale":{"domain":["Seymour","Roslin","Tina","m.e.","Nevada"],"range":["#ff00ff","#ff0000","#7a0a7a","#0000ff","#000000"]},"legend":null}}},
   {"data":{"name":"notes"},"transform":[{"filter":"datum.panel == 'f15k_L' && datum.kind == 'me'"}],"mark":{"type":"text","baseline":"middle","fontSize":16,"fontWeight":"bold"},"encoding":{"text":{"field":"text"},"y":{"field":"v","type":"quantitative","scale":{"domain":[17,88.5],"nice":false,"zero":false},"axis":null},"color":{"field":"who","type":"nominal","scale":{"domain":["Seymour","Roslin","Tina","m.e.","Nevada"],"range":["#ff00ff","#ff0000","#7a0a7a","#0000ff","#000000"]},"legend":null}}},
   {"data":{"name":"metick"},"transform":[{"filter":"datum.panel == 'f15k_L'"}],"mark":{"type":"rule","color":"#0000ff","strokeWidth":1.5},"encoding":{"y":{"datum":17,"axis":null},"y2":{"datum":22}}}
  ]},
 {"width":541,"height":93,
  "encoding":{
   "x":{"field":"t","type":"quantitative","scale":{"domain":[354.8,386.4],"nice":false,"zero":false},"axis":{"orient":"top","values":[355,360,365,370,375,380,385],"labels":false,"tickSize":-7,"title":null}},
   "y":{"field":"v","type":"quantitative","scale":{"domain":[17,88.5],"nice":false,"zero":false},"axis":{"values":[40,80],"tickSize":-6,"labels":false,"title":null}}},
  "layer":[
   {"data":{"name":"f15k_R"},"mark":{"type":"line","clip":true}},
   {"data":{"name":"notes"},"transform":[{"filter":"datum.panel == 'f15k_R' && datum.kind == 'band'"}],"mark":{"type":"text","align":"left","baseline":"middle","fontSize":24,"color":"#0000ff"},"encoding":{"text":{"field":"text"}}},
   {"data":{"name":"notes"},"transform":[{"filter":"datum.panel == 'f15k_R' && datum.kind == 'name'"}],"mark":{"type":"text","baseline":"middle","fontSize":22,"fontWeight":"bold"},"encoding":{"text":{"field":"text"},"color":{"field":"who","type":"nominal","scale":{"domain":["Seymour","Roslin","Tina","m.e.","Nevada"],"range":["#ff00ff","#ff0000","#7a0a7a","#0000ff","#000000"]},"legend":null}}},
   {"data":{"name":"notes"},"transform":[{"filter":"datum.panel == 'f15k_R' && datum.kind == 'arrow'"}],"mark":{"type":"text","baseline":"middle","fontSize":22,"fontWeight":"bold","font":"DejaVu Sans"},"encoding":{"text":{"field":"text"},"color":{"field":"who","type":"nominal","scale":{"domain":["Seymour","Roslin","Tina","m.e.","Nevada"],"range":["#ff00ff","#ff0000","#7a0a7a","#0000ff","#000000"]},"legend":null}}},
   {"data":{"name":"notes"},"transform":[{"filter":"datum.panel == 'f15k_R' && datum.kind == 'me'"}],"mark":{"type":"text","baseline":"middle","fontSize":16,"fontWeight":"bold"},"encoding":{"text":{"field":"text"},"color":{"field":"who","type":"nominal","scale":{"domain":["Seymour","Roslin","Tina","m.e.","Nevada"],"range":["#ff00ff","#ff0000","#7a0a7a","#0000ff","#000000"]},"legend":null}}},
   {"data":{"name":"metick"},"transform":[{"filter":"datum.panel == 'f15k_R'"}],"mark":{"type":"rule","color":"#0000ff","strokeWidth":1.5},"encoding":{"y":{"datum":17},"y2":{"datum":22}}}
  ]},
 {"width":544,"height":80,"view":{"stroke":null},
  "data":{"name":"table_L"},
  "transform":[{"fold":["UT","Lat","Long","L"],"as":["row","text"]}],
  "mark":{"type":"text","font":"Liberation Sans","fontWeight":"bold","fontSize":16,"dy":5,"color":"#111"},
  "encoding":{
   "x":{"field":"t","type":"quantitative","scale":{"domain":[250.5,282.5],"nice":false,"zero":false},"axis":{"orient":"top","values":[255,260,265,270,275,280],"labels":false,"tickSize":7,"title":null}},
   "y":{"field":"row","type":"nominal","sort":["UT","Lat","Long","L"],"axis":{"title":null,"ticks":false,"labelAlign":"left","labelPadding":25,"labelOffset":5,"labelFont":"Liberation Sans","labelFontWeight":"bold","labelFontSize":16,"labelColor":"#111"}},
   "text":{"field":"text","type":"nominal"}}},
 {"width":541,"height":80,"view":{"stroke":null},
  "data":{"name":"table_R"},
  "transform":[{"fold":["UT","Lat","Long","L"],"as":["row","text"]}],
  "encoding":{
   "x":{"field":"t","type":"quantitative","scale":{"domain":[354.8,386.4],"nice":false,"zero":false},"axis":{"orient":"top","values":[355,360,365,370,375,380,385],"labels":false,"tickSize":7,"title":null}},
   "y":{"field":"row","type":"nominal","sort":["UT","Lat","Long","L"],"axis":null},
   "text":{"field":"text","type":"nominal"}},
  "layer":[
   {"transform":[{"filter":"datum.t != 355"}],"mark":{"type":"text","font":"Liberation Sans","fontWeight":"bold","fontSize":16,"dy":5,"color":"#111","align":"center"}},
   {"transform":[{"filter":"datum.t == 355"}],"mark":{"type":"text","font":"Liberation Sans","fontWeight":"bold","fontSize":16,"dy":5,"color":"#111","align":"left","dx":-3}}
  ]}
]
}
